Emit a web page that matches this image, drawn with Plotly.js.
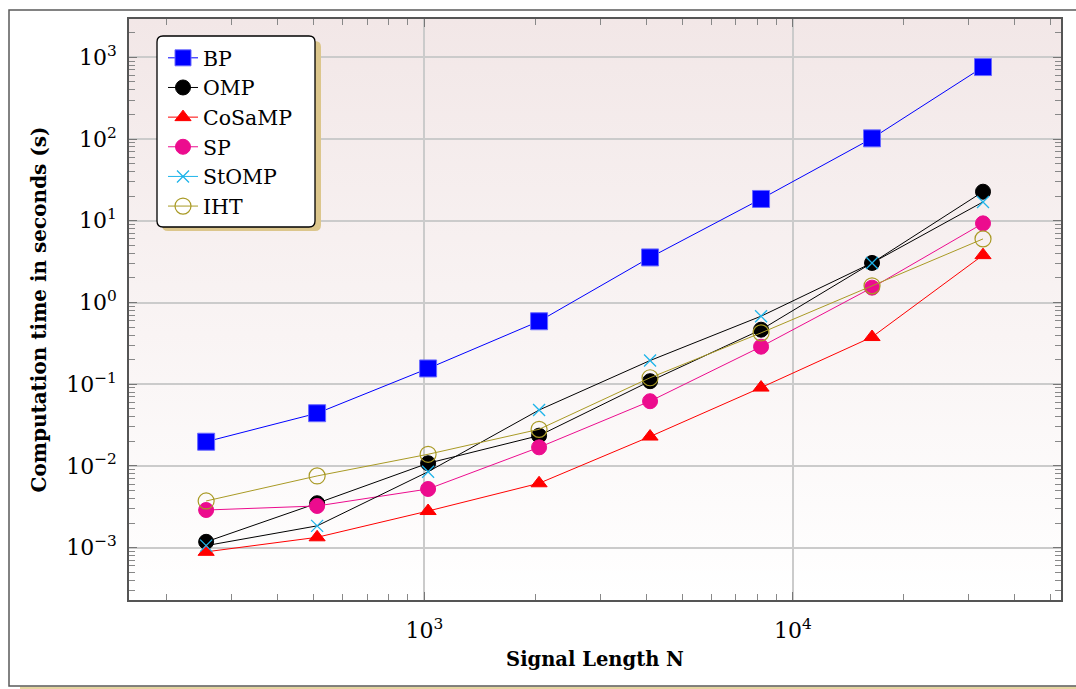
<!DOCTYPE html>
<html>
<head>
<meta charset="utf-8">
<script src="https://cdn.plot.ly/plotly-3.0.1.min.js"></script>
<style>
  html, body { margin: 0; padding: 0; background: #ffffff; }
  #chart { width: 1076px; height: 689px; }
</style>
</head>
<body>
<div id="chart"></div>
<script>
// ---- data ----
const signalLength = [256, 512, 1024, 2048, 4096, 8192, 16384, 32768];
const seriesNames = ["BP", "OMP", "CoSaMP", "SP", "StOMP", "IHT"];
const timeBP     = [0.0198, 0.0442, 0.156, 0.59, 3.56, 18.5, 102, 760];
const timeOMP    = [0.00118, 0.0035, 0.0108, 0.0235, 0.109, 0.465, 3.05, 22.7];
const timeCoSaMP = [0.00089, 0.00134, 0.00281, 0.00614, 0.0229, 0.091, 0.378, 3.8];
const timeSP     = [0.00289, 0.00324, 0.00523, 0.0169, 0.0620, 0.288, 1.52, 9.3];
const timeStOMP  = [0.00106, 0.00185, 0.0085, 0.0484, 0.195, 0.68, 3.05, 17.0];
const timeIHT    = [0.00373, 0.00755, 0.0139, 0.0281, 0.120, 0.425, 1.60, 6.0];
const xTickVals = [1000, 10000];
const xTickText = ["10<sup>3</sup>", "10<sup>4</sup>"];
const yTickVals = [0.001, 0.01, 0.1, 1, 10, 100, 1000];
const yTickText = ["10<sup>−3</sup>", "10<sup>−2</sup>", "10<sup>−1</sup>", "10<sup>0</sup>",
                   "10<sup>1</sup>", "10<sup>2</sup>", "10<sup>3</sup>"];
const xTitle = "Signal Length N";
const yTitle = "Computation time in seconds (s)";

// ---- layout geometry ----
const W = 1076, H = 689;
const M = { l: 129, r: 15, t: 19, b: 89 };
const PW = W - M.l - M.r, PH = H - M.t - M.b;
const px = xp => (xp - M.l) / PW;
const py = yp => (H - M.b - yp) / PH;

function roundRectPath(x0, y0, x1, y1, r) {
  const rx = r / PW, ry = r / PH;
  const X0 = px(x0), X1 = px(x1), Y0 = py(y0), Y1 = py(y1);
  return `M${X0 + rx},${Y0} L${X1 - rx},${Y0} Q${X1},${Y0} ${X1},${Y0 - ry} ` +
         `L${X1},${Y1 + ry} Q${X1},${Y1} ${X1 - rx},${Y1} L${X0 + rx},${Y1} ` +
         `Q${X0},${Y1} ${X0},${Y1 + ry} L${X0},${Y0 - ry} Q${X0},${Y0} ${X0 + rx},${Y0} Z`;
}

const FONT = "DejaVu Serif, Liberation Serif, serif";

const traces = [
  { name: seriesNames[0], x: signalLength, y: timeBP, mode: "lines+markers", legendrank: 1001,
    line: { color: "#0000ff", width: 1 },
    marker: { symbol: "square", size: 17, color: "#0000ff", line: { color: "#6a6aff", width: 1 } } },
  { name: seriesNames[1], x: signalLength, y: timeOMP, mode: "lines+markers", legendrank: 1002,
    line: { color: "#000000", width: 1 },
    marker: { symbol: "circle", size: 15, color: "#000000", line: { color: "#000000", width: 1 } } },
  { name: seriesNames[2], x: signalLength, y: timeCoSaMP, mode: "lines+markers", legendrank: 1003,
    line: { color: "#ff0000", width: 1 },
    marker: { symbol: "triangle-up", size: 14, color: "#ff0000", line: { color: "#ff0000", width: 1 } } },
  { name: seriesNames[3], x: signalLength, y: timeSP, mode: "lines+markers", legendrank: 1004,
    line: { color: "#ec0c8e", width: 1 },
    marker: { symbol: "circle", size: 15, color: "#ec0c8e", line: { color: "#ec0c8e", width: 1 } } },
  // StOMP: black connecting line in the plot, cyan in the legend
  { name: seriesNames[4], x: signalLength, y: timeStOMP, mode: "lines+markers", showlegend: false,
    line: { color: "#000000", width: 1 },
    marker: { symbol: "x-thin", size: 12, color: "#1eb4ea", line: { color: "#1eb4ea", width: 1.3 } } },
  { name: seriesNames[4], x: [null], y: [null], mode: "lines+markers", legendrank: 1005,
    line: { color: "#1eb4ea", width: 1 },
    marker: { symbol: "x-thin", size: 12, color: "#1eb4ea", line: { color: "#1eb4ea", width: 1.3 } } },
  { name: seriesNames[5], x: signalLength, y: timeIHT, mode: "lines+markers", legendrank: 1006,
    line: { color: "#a99a25", width: 1 },
    marker: { symbol: "circle-open", size: 16, color: "#a99a25", line: { color: "#a99a25", width: 1.2 } } }
];

const gradSvg = "<svg xmlns='http://www.w3.org/2000/svg' width='100' height='100' preserveAspectRatio='none'>" +
  "<defs><linearGradient id='g' x1='0' y1='0' x2='0' y2='1'>" +
  "<stop offset='0' stop-color='#f2e7e7'/><stop offset='1' stop-color='#ffffff'/>" +
  "</linearGradient></defs><rect width='100' height='100' fill='url(#g)'/></svg>";

const axisCommon = {
  type: "log",
  showline: true, linecolor: "#555555", linewidth: 1.5, mirror: "allticks",
  ticks: "inside", ticklen: 8, tickwidth: 1.2, tickcolor: "#777777",
  showgrid: true, gridcolor: "#cbcbcb", gridwidth: 1.5, zeroline: false,
  tickmode: "array",
  tickfont: { family: FONT, size: 22, color: "#000000" },
  minor: { ticks: "inside", ticklen: 6, tickwidth: 1.1, tickcolor: "#888888", dtick: "D1", showgrid: false }
};

const layout = {
  width: W, height: H,
  margin: M,
  paper_bgcolor: "#ffffff",
  plot_bgcolor: "rgba(0,0,0,0)",
  showlegend: true,
  xaxis: Object.assign({}, axisCommon, {
    range: [2.199, 4.727],
    tickvals: xTickVals, ticktext: xTickText,
    ticklabelstandoff: 10,
    title: { text: xTitle, font: { family: FONT, size: 19.5, weight: "bold", color: "#000000" }, standoff: 10 }
  }),
  yaxis: Object.assign({}, axisCommon, {
    range: [-3.640, 3.469],
    tickvals: yTickVals, ticktext: yTickText,
    ticklabelstandoff: 6,
    title: { text: yTitle, font: { family: FONT, size: 20, weight: "bold", color: "#000000" }, standoff: 14 }
  }),
  legend: {
    x: px(163), y: py(38), xanchor: "left", yanchor: "top",
    bgcolor: "rgba(0,0,0,0)", borderwidth: 0,
    font: { family: FONT, size: 20.5, color: "#000000" },
    traceorder: "normal"
  },
  images: [{
    source: "data:image/svg+xml;charset=utf-8," + encodeURIComponent(gradSvg),
    xref: "paper", yref: "paper", x: 0, y: 1, sizex: 1, sizey: 1,
    xanchor: "left", yanchor: "top", sizing: "stretch", layer: "below"
  }],
  shapes: [
    { type: "rect", xref: "paper", yref: "paper", x0: px(20), x1: px(1090), y0: py(686.5), y1: py(690),
      fillcolor: "#e4d49f", line: { width: 0 }, layer: "below" },
    { type: "rect", xref: "paper", yref: "paper", x0: px(9), x1: px(1090), y0: py(10), y1: py(686),
      fillcolor: "rgba(0,0,0,0)", line: { color: "#5a5a5a", width: 1.5 }, layer: "below" },
    { type: "path", xref: "paper", yref: "paper", path: roundRectPath(162, 41, 321, 231, 6),
      fillcolor: "#dcc68c", line: { width: 0 }, layer: "above" },
    { type: "path", xref: "paper", yref: "paper", path: roundRectPath(157, 36, 315, 227, 6),
      fillcolor: "#ffffff", line: { color: "#000000", width: 1.3 }, layer: "above" }
  ]
};

Plotly.newPlot("chart", traces, layout, { displayModeBar: false, responsive: false });
</script>
</body>
</html>
